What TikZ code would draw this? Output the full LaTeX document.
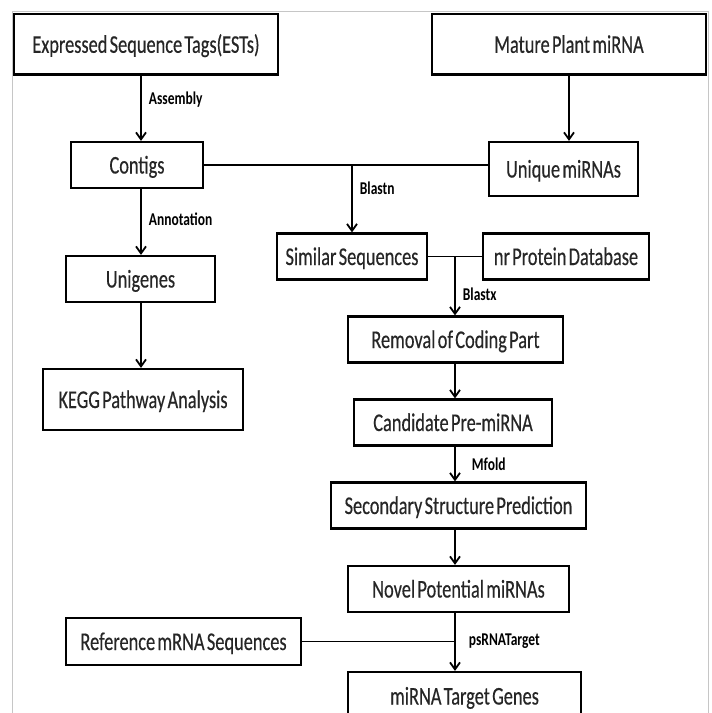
\documentclass[tikz,border=0pt]{standalone}
\usepackage{fontspec}
\usepackage{tikz}
\usetikzlibrary{arrows.meta,calc}
\newfontfamily\boxfont{Carlito}[FakeStretch=0.72, WordSpace=0.55, FakeBold=0.4]
\newfontfamily\lblfont{Carlito}[FakeStretch=0.75]

\begin{document}
\begin{tikzpicture}[x=1pt, y=-1pt,
    stepbox/.style={rectangle, draw, line width=2.2pt, inner sep=0pt, minimum height=46pt,
        text height=17pt, text depth=0pt, text=black!85,
        font=\fontsize{25.5}{28}\selectfont\boxfont},
    lbl/.style={font=\fontsize{18}{20}\selectfont\lblfont\bfseries, inner sep=0pt, anchor=west, xshift=7pt},
    link/.style={line width=1.8pt},
    flow/.style={link, -{Straight Barb[length=7pt, width=10pt]}}
]
    \useasboundingbox (0,0) rectangle (712,713);
    \clip (0,0) rectangle (712,713);

    % Frame
    \draw[gray!45, line width=0.8pt] (12.5,713) -- (12.5,11) -- (708,11) -- (708,713);

    % Columns
    \coordinate (lcol) at (141,0);
    \coordinate (col) at (455,0);

    % Inputs
    \node[stepbox, minimum width=264pt, minimum height=60.5pt] (est) at (146,44.3) {Expressed Sequence Tags(ESTs)};
    \node[stepbox, minimum width=274pt, minimum height=60.5pt] (mature) at (569,44.3) {Mature Plant miRNA};

    % EST branch
    \node[stepbox, minimum width=132pt] (contigs) at (137,165) {Contigs};
    \node[stepbox, minimum width=149pt] (unigenes) at (140.5,279) {Unigenes};
    \node[stepbox, minimum width=200pt, minimum height=61pt] (kegg) at (143,399.5) {KEGG Pathway Analysis};

    % miRNA branch
    \node[stepbox, minimum width=149pt, minimum height=54pt] (unique) at (563.5,169) {Unique miRNAs};
    \node[stepbox, minimum width=150pt] (similar) at (352,256.5) {Similar Sequences};
    \node[stepbox, minimum width=166pt] (nrdb) at (566,256.5) {nr Protein Database};
    \node[stepbox, minimum width=215pt] (removal) at (455.5,339.5) {Removal of Coding Part};
    \node[stepbox, minimum width=198pt] (candidate) at (453,422.5) {Candidate Pre-miRNA};
    \node[stepbox, minimum width=255pt] (secondary) at (458.5,505.5) {Secondary Structure Prediction};
    \node[stepbox, minimum width=221pt] (novel) at (458.5,589) {Novel Potential miRNAs};
    \node[stepbox, minimum width=235pt, minimum height=47pt] (refseq) at (183.5,641.5) {Reference mRNA Sequences};
    \node[stepbox, minimum width=233pt, minimum height=48pt] (target) at (464.5,696) {miRNA Target Genes};

    % Links
    \draw[flow] (est.south -| lcol) -- (contigs.north -| lcol) node[lbl, pos=0.36] {Assembly};
    \draw[flow] (mature.south) -- (mature.south |- unique.north);
    \draw[flow] (contigs.south -| lcol) -- (unigenes.north -| lcol) node[lbl, pos=0.46] {Annotation};
    \draw[flow] (unigenes.south -| lcol) -- (kegg.north -| lcol);
    \draw[link] (contigs.east) -- (contigs.east -| unique.west);
    \draw[flow] (contigs.east -| similar) -- (similar.north) node[lbl, pos=0.35] {Blastn};
    \draw[link] (similar.east) -- (nrdb.west);
    \draw[flow] (similar.east -| col) -- (removal.north -| col) node[lbl, pos=0.64] {Blastx};
    \draw[flow] (removal.south -| col) -- (candidate.north -| col);
    \draw[flow] (candidate.south -| col) -- (secondary.north -| col) node[lbl, pos=0.5, xshift=9pt] {Mfold};
    \draw[flow] (secondary.south -| col) -- (novel.north -| col);
    \draw[flow] (novel.south -| col) -- (target.north -| col) node[lbl, pos=0.48, xshift=6pt] {psRNATarget};
    \draw[link] (refseq.east) -- (refseq.east -| col);
\end{tikzpicture}
\end{document}
